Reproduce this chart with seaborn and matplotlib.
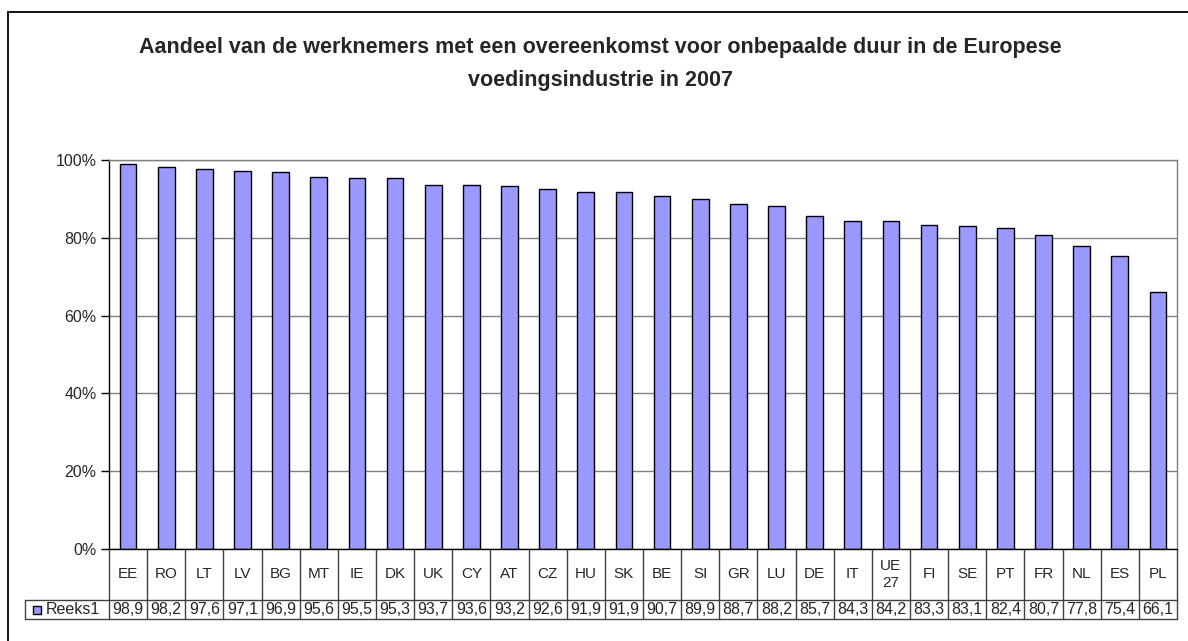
import numpy as np
import pandas as pd
import matplotlib.pyplot as plt
import seaborn as sns
from matplotlib.patches import Rectangle
from matplotlib.ticker import PercentFormatter

# data (share in %)
countries = ['EE', 'RO', 'LT', 'LV', 'BG', 'MT', 'IE', 'DK', 'UK', 'CY', 'AT', 'CZ', 'HU', 'SK',
             'BE', 'SI', 'GR', 'LU', 'DE', 'IT', 'UE\n27', 'FI', 'SE', 'PT', 'FR', 'NL', 'ES', 'PL']
share = [98.9, 98.2, 97.6, 97.1, 96.9, 95.6, 95.5, 95.3, 93.7, 93.6, 93.2, 92.6, 91.9, 91.9,
         90.7, 89.9, 88.7, 88.2, 85.7, 84.3, 84.2, 83.3, 83.1, 82.4, 80.7, 77.8, 75.4, 66.1]
series_name = 'Reeks1'
title = ('Aandeel van de werknemers met een overeenkomst voor onbepaalde duur in de Europese\n'
         'voedingsindustrie in 2007')

df = pd.DataFrame({'land': countries, 'aandeel': np.array(share) / 100})
value_labels = [f'{v:.1f}'.replace('.', ',') for v in share]

sns.set_style('white')
plt.rcParams['font.family'] = ['Liberation Sans', 'DejaVu Sans']

W, H = 1188, 641
fig = plt.figure(figsize=(W / 100, H / 100), dpi=100)
ax = fig.add_axes([109 / W, 1 - 549 / H, (1177 - 109) / W, (549 - 160) / H])

bar_color = '#9999FF'
sns.barplot(data=df, x='land', y='aandeel', color=bar_color, saturation=1,
            edgecolor='black', linewidth=1, width=0.44, ax=ax)

ax.set_ylim(0, 1)
ax.set_xlim(-0.5, len(countries) - 0.5)
ax.set_yticks(np.arange(0, 1.01, 0.2))
ax.yaxis.set_major_formatter(PercentFormatter(1.0, decimals=0))
ax.tick_params(axis='y', direction='out', length=6, width=1, color='black',
               labelsize=11.5, pad=3, left=True)
ax.tick_params(axis='x', bottom=False, labelbottom=False)
ax.set_xlabel('')
ax.set_ylabel('')
ax.yaxis.grid(True, color='#808080', linewidth=1)
ax.set_axisbelow(True)
for side in ['top', 'right']:
    ax.spines[side].set_color('#808080')
    ax.spines[side].set_linewidth(1)
for side in ['left', 'bottom']:
    ax.spines[side].set_color('black')
    ax.spines[side].set_linewidth(1)

# data table under the plot area
trans = ax.get_xaxis_transform()
axh = 549 - 160
y_head = -(600 - 549) / axh
y_row = -(619 - 549) / axh
n = len(countries)
line_kw = dict(color='#404040', linewidth=1, clip_on=False)
for i in range(n + 1):
    ax.plot([i - 0.5, i - 0.5], [0, y_row], transform=trans, **line_kw)
ax.plot([-0.5, n - 0.5], [y_row, y_row], transform=trans, **line_kw)

# legend cell extends left of the axis
leg_left = -(109 - 25) / (1177 - 109)
ax.plot([leg_left, 1], [y_head, y_head], transform=ax.transAxes, **line_kw)
ax.plot([leg_left, 0], [y_row, y_row], transform=ax.transAxes, **line_kw)
ax.plot([leg_left, leg_left], [y_head, y_row], transform=ax.transAxes, **line_kw)

for i, (c, v) in enumerate(zip(countries, value_labels)):
    ax.text(i, y_head / 2, c, transform=trans, ha='center', va='center',
            fontsize=11, linespacing=1.3)
    ax.text(i, (y_head + y_row) / 2, v, transform=trans, ha='center', va='center',
            fontsize=11.5)

ax.add_patch(Rectangle((leg_left + 8 / 1068, (y_head + y_row) / 2 - 4 / axh), 8 / 1068, 8 / axh,
                       transform=ax.transAxes, facecolor=bar_color, edgecolor='black',
                       linewidth=1, clip_on=False))
ax.text(leg_left + 21 / 1068, (y_head + y_row) / 2, series_name, transform=ax.transAxes,
        ha='left', va='center', fontsize=11.5)

# chart title and outer frame
fig.text(600 / W, 1 - 64 / H, title, ha='center', va='center', fontsize=15.5,
         fontweight='bold', linespacing=1.75)
fig.patches.append(Rectangle((8 / W, -0.2), 1.5, 1.2 - 12 / H, transform=fig.transFigure,
                             fill=False, edgecolor='black', linewidth=1.3))

fig.savefig('out.png', dpi=100)
